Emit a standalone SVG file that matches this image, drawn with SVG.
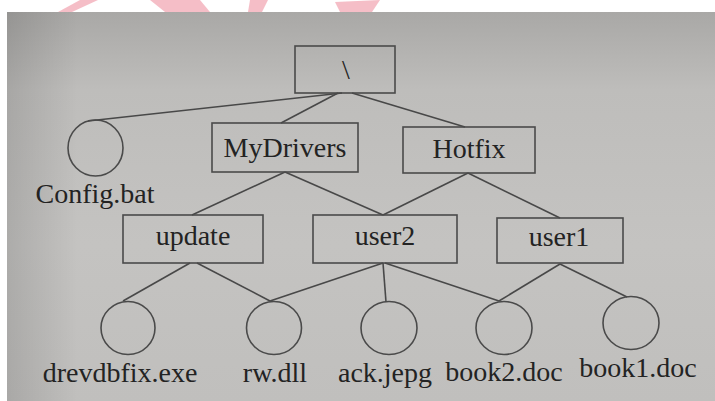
<svg xmlns="http://www.w3.org/2000/svg" width="715" height="401" viewBox="0 0 715 401" font-family="Liberation Serif">
  <defs>
    <linearGradient id="bgv" x1="0" y1="0" x2="0" y2="1">
      <stop offset="0" stop-color="#a9a8a6"/>
      <stop offset="0.2" stop-color="#bebdbb"/>
      <stop offset="0.6" stop-color="#c4c3c1"/>
      <stop offset="1" stop-color="#c0bfbd"/>
    </linearGradient>
    <linearGradient id="bgh" x1="0" y1="0" x2="1" y2="0">
      <stop offset="0" stop-color="#000" stop-opacity="0.12"/>
      <stop offset="0.1" stop-color="#000" stop-opacity="0"/>
      <stop offset="1" stop-color="#000" stop-opacity="0"/>
    </linearGradient>
    <style>
      svg text, g text, text.lbl { font-family: "Liberation Serif", serif !important; }
      .box { fill: none; stroke: #4a4a4a; stroke-width: 1.6; }
      .file { fill: none; stroke: #4a4a4a; stroke-width: 1.6; }
      .conn line { stroke: #484848; stroke-width: 1.6; }
      .lbl { font-size: 28px; fill: #232323; text-anchor: middle; }
      .wm { fill: #f3b3bd; opacity: 0.85; }
    </style>
  </defs>

  <rect x="0" y="0" width="715" height="401" fill="#ffffff"/>
  <polygon points="7,12 715,12 715,401 7,401" fill="url(#bgv)"/>
  <polygon points="7,12 715,12 715,401 7,401" fill="url(#bgh)"/>

  <polygon class="wm" points="80,0 98,0 72,12 58,12"/>
  <polygon class="wm" points="150,0 200,0 210,12 165,12"/>
  <polygon class="wm" points="250,0 268,0 262,12 248,12"/>
  <polygon class="wm" points="335,2 380,0 372,12 340,12"/>

  <g id="connectors" class="conn">
    <line x1="342" y1="93" x2="88" y2="121"/>
    <line x1="338" y1="93" x2="281" y2="123"/>
    <line x1="352" y1="93" x2="465" y2="127"/>
    <line x1="285" y1="172" x2="192" y2="215"/>
    <line x1="285" y1="172" x2="383" y2="215"/>
    <line x1="468" y1="173" x2="383" y2="215"/>
    <line x1="468" y1="173" x2="560" y2="218"/>
    <line x1="190" y1="263" x2="123" y2="301"/>
    <line x1="197" y1="263" x2="270" y2="301"/>
    <line x1="383" y1="263" x2="270" y2="301"/>
    <line x1="383" y1="263" x2="386" y2="302"/>
    <line x1="385" y1="263" x2="499" y2="301"/>
    <line x1="560" y1="264" x2="499" y2="301"/>
    <line x1="560" y1="264" x2="627" y2="297"/>
  </g>

  <g id="root">
    <rect class="box" x="295" y="46" width="100" height="47"/>
    <text class="lbl" font-family="Liberation Serif" style="font-family:'Liberation Serif',serif !important" x="346" y="79">\</text>
  </g>
  <g id="mydrivers">
    <rect class="box" x="212" y="123" width="146" height="49"/>
    <text class="lbl" font-family="Liberation Serif" style="font-family:'Liberation Serif',serif !important" x="285" y="157">MyDrivers</text>
  </g>
  <g id="hotfix">
    <rect class="box" x="403" y="127" width="132" height="46"/>
    <text class="lbl" font-family="Liberation Serif" style="font-family:'Liberation Serif',serif !important" x="469" y="158">Hotfix</text>
  </g>
  <g id="config">
    <ellipse class="file" cx="95.5" cy="148" rx="27.5" ry="28"/>
    <text class="lbl" font-family="Liberation Serif" style="font-family:'Liberation Serif',serif !important" x="95" y="203">Config.bat</text>
  </g>
  <g id="update">
    <rect class="box" x="123" y="215" width="140" height="48"/>
    <text class="lbl" font-family="Liberation Serif" style="font-family:'Liberation Serif',serif !important" x="193" y="245">update</text>
  </g>
  <g id="user2">
    <rect class="box" x="313" y="215" width="144" height="48"/>
    <text class="lbl" font-family="Liberation Serif" style="font-family:'Liberation Serif',serif !important" x="385" y="245">user2</text>
  </g>
  <g id="user1">
    <rect class="box" x="497" y="218" width="126" height="45"/>
    <text class="lbl" font-family="Liberation Serif" style="font-family:'Liberation Serif',serif !important" x="559" y="246">user1</text>
  </g>
  <g id="drevdbfix">
    <ellipse class="file" cx="128" cy="328" rx="27" ry="26.5"/>
    <text class="lbl" font-family="Liberation Serif" style="font-family:'Liberation Serif',serif !important" x="120" y="382">drevdbfix.exe</text>
  </g>
  <g id="rwdll">
    <ellipse class="file" cx="274" cy="328" rx="27.5" ry="26.5"/>
    <text class="lbl" font-family="Liberation Serif" style="font-family:'Liberation Serif',serif !important" x="275" y="382">rw.dll</text>
  </g>
  <g id="ackjepg">
    <ellipse class="file" cx="389" cy="328" rx="28" ry="26.5"/>
    <text class="lbl" font-family="Liberation Serif" style="font-family:'Liberation Serif',serif !important" x="385" y="382">ack.jepg</text>
  </g>
  <g id="book2doc">
    <ellipse class="file" cx="504" cy="328" rx="28" ry="26.5"/>
    <text class="lbl" font-family="Liberation Serif" style="font-family:'Liberation Serif',serif !important" x="504" y="381">book2.doc</text>
  </g>
  <g id="book1doc">
    <ellipse class="file" cx="631" cy="323" rx="28" ry="26.5"/>
    <text class="lbl" font-family="Liberation Serif" style="font-family:'Liberation Serif',serif !important" x="638" y="377">book1.doc</text>
  </g>
</svg>
